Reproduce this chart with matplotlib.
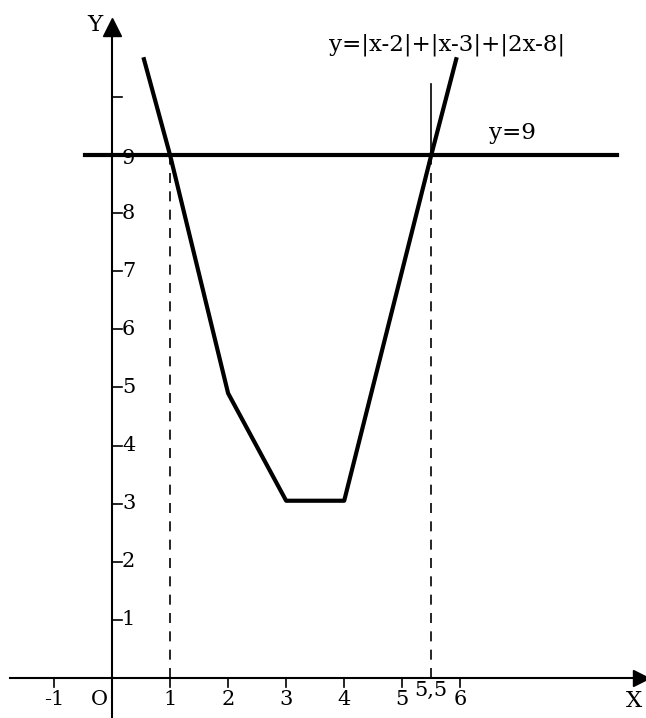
import numpy as np
import matplotlib.pyplot as plt

# точки ломаной y=|x-2|+|x-3|+|2x-8|
xs = [0.55, 1, 2, 3, 4, 5.5, 5.93]
ys = [10.65, 9, 4.9, 3.05, 3.05, 9, 10.65]

x_ticks = [-1, 1, 2, 3, 4, 5, 6]
x_labels = ['-1', '1', '2', '3', '4', '5', '6']
y_ticks = [1, 2, 3, 4, 5, 6, 7, 8, 9, 10]
y_labels = ['1', '2', '3', '4', '5', '6', '7', '8', '9', '']

fnt = dict(family='DejaVu Serif', fontsize=15, color='black')
big = dict(family='DejaVu Serif', fontsize=16.5, color='black')

fig = plt.figure(figsize=(6.46, 7.18), dpi=100)
ax = fig.add_axes([0, 0, 1, 1])
ax.set_xlim(-1.93, 9.2)
ax.set_ylim(-0.69, 11.67)
ax.axis('off')

# оси
ax.plot([-1.75, 9.1], [0, 0], color='black', lw=1.5)
ax.plot([0, 0], [-0.7, 11.2], color='black', lw=1.5)
ax.plot([9.12], [0], marker='>', color='black', markersize=11)
ax.plot([0], [11.2], marker='^', color='black', markersize=13)

# деления
for t in x_ticks:
    ax.plot([t, t], [0, -0.15], color='black', lw=1.2)
for t in y_ticks:
    ax.plot([0, 0.17], [t, t], color='black', lw=1.2)
for t, s in zip(x_ticks, x_labels):
    ax.text(t, -0.2, s, ha='center', va='top', **fnt)
for t, s in zip(y_ticks, y_labels):
    if s:
        ax.text(0.17, t - (0.05 if t == 9 else 0), s, ha='left', va='center', **fnt)
ax.text(5.5, -0.06, '5,5', ha='center', va='top', **fnt)
ax.text(-0.22, -0.2, 'O', ha='center', va='top', **fnt)
ax.text(9.0, -0.2, 'X', ha='center', va='top', **big)
ax.text(-0.3, 11.05, 'Y', ha='center', va='bottom', **big)

# прямая y=9
ax.plot([-0.47, 8.7], [9, 9], color='black', lw=3)
ax.text(6.9, 9.38, 'y=9', ha='center', va='center', **big)

# пунктиры
ax.plot([1, 1], [0, 9], color='black', lw=1.2, ls=(0, (6, 5)))
ax.plot([5.5, 5.5], [0, 9], color='black', lw=1.2, ls=(0, (6, 5)))
ax.plot([5.5, 5.5], [9, 10.22], color='black', lw=1.2)

# график
ax.plot(xs, ys, color='black', lw=3)
ax.text(5.78, 10.9, 'y=|x-2|+|x-3|+|2x-8|', ha='center', va='center', **big)

fig.savefig('out.png', dpi=100)
